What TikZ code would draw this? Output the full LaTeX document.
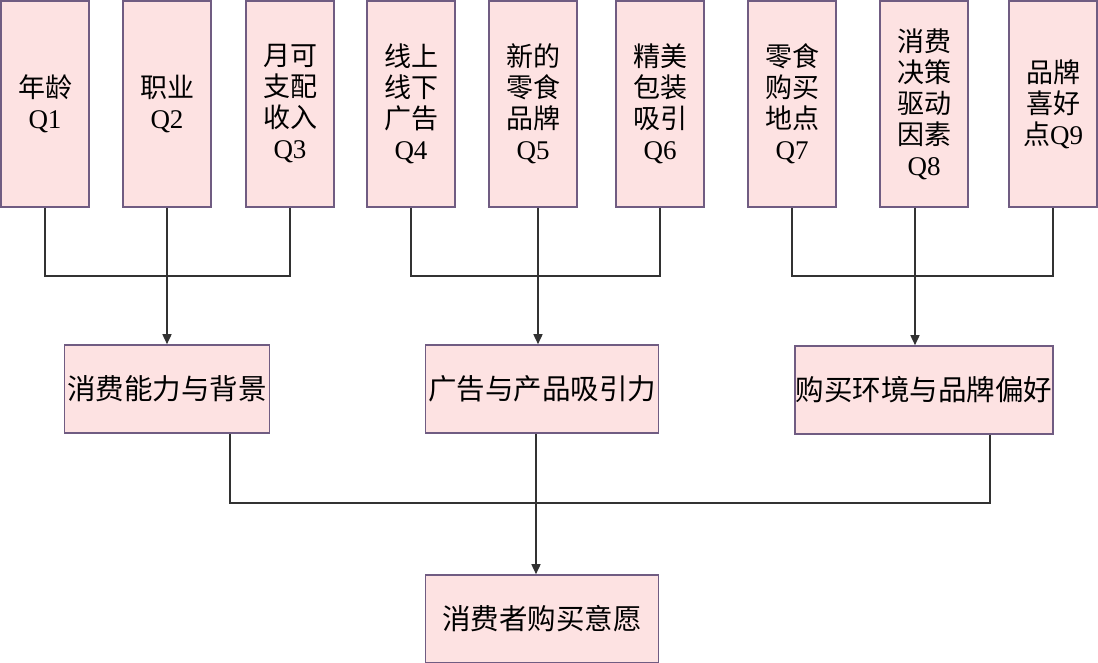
\documentclass[tikz,border=0pt]{standalone}
\usepackage{fontspec}
\setmainfont{Liberation Serif}
\newfontfamily\cjk{Noto Sans CJK SC}
\usetikzlibrary{arrows.meta}
\definecolor{boxfill}{RGB}{253,226,226}
\definecolor{boxline}{RGB}{112,92,130}
\definecolor{wire}{RGB}{50,50,50}
\newcommand{\zh}[1]{{\cjk #1}}
\tikzset{
  qbox/.style={draw=boxline, line width=1.6pt, fill=boxfill, minimum width=88pt, minimum height=206pt, inner sep=0pt, align=center, font=\fontsize{27}{31}\selectfont},
  fbox/.style={draw=boxline, line width=1.6pt, fill=boxfill, minimum height=88pt, inner sep=0pt, align=center, font=\fontsize{28.5}{31}\selectfont},
  wirestyle/.style={draw=wire, line width=1.6pt},
  arr/.style={wirestyle, -{Triangle[length=10pt,width=9pt]}}
}
\begin{document}
\begin{tikzpicture}[x=1pt,y=-1pt]
\fill[white] (0,0) rectangle (1098,663);
\useasboundingbox (0,0) rectangle (1098,663);
% top boxes
\node[qbox] (q1) at (45,104) {\zh{年龄}\\Q1};
\node[qbox] (q2) at (167,104) {\zh{职业}\\Q2};
\node[qbox] (q3) at (290,104) {\zh{月可}\\\zh{支配}\\\zh{收入}\\Q3};
\node[qbox] (q4) at (411,104) {\zh{线上}\\\zh{线下}\\\zh{广告}\\Q4};
\node[qbox] (q5) at (533,104) {\zh{新的}\\\zh{零食}\\\zh{品牌}\\Q5};
\node[qbox] (q6) at (660,104) {\zh{精美}\\\zh{包装}\\\zh{吸引}\\Q6};
\node[qbox] (q7) at (792,104) {\zh{零食}\\\zh{购买}\\\zh{地点}\\Q7};
\node[qbox] (q8) at (924,104) {\zh{消费}\\\zh{决策}\\\zh{驱动}\\\zh{因素}\\Q8};
\node[qbox] (q9) at (1053,104) {\zh{品牌}\\\zh{喜好}\\\zh{点}Q9};
% middle boxes
\node[fbox, minimum width=205pt] (a) at (167,389) {\zh{消费能力与背景}};
\node[fbox, minimum width=233pt] (b) at (542,389) {\zh{广告与产品吸引力}};
\node[fbox, minimum width=258pt] (c) at (924,390) {\zh{购买环境与品牌偏好}};
% bottom box
\node[fbox, minimum width=233pt] (d) at (542,619) {\zh{消费者购买意愿}};
% junctions
\coordinate (j1) at (167,276);
\coordinate (j2) at (538,276);
\coordinate (j3) at (915,276);
\coordinate (j4) at (536,503);
% group 1
\draw[wirestyle] (q1.south) |- (j1);
\draw[wirestyle] (q3.south) |- (j1);
\draw[wirestyle] (q2.south) -- (j1);
\draw[arr] (j1) -- (j1 |- a.north);
% group 2
\draw[wirestyle] (q4.south) |- (j2);
\draw[wirestyle] (q6.south) |- (j2);
\draw[wirestyle] (q5.south -| j2) -- (j2);
\draw[arr] (j2) -- (j2 |- b.north);
% group 3
\draw[wirestyle] (q7.south) |- (j3);
\draw[wirestyle] (q9.south) |- (j3);
\draw[wirestyle] (q8.south -| j3) -- (j3);
\draw[arr] (j3) -- (j3 |- c.north);
% bottom group
\draw[wirestyle] ([xshift=63pt]a.south) |- (j4);
\draw[wirestyle] ([xshift=66pt]c.south) |- (j4);
\draw[wirestyle] (b.south -| j4) -- (j4);
\draw[arr] (j4) -- (j4 |- d.north);
\end{tikzpicture}
\end{document}
